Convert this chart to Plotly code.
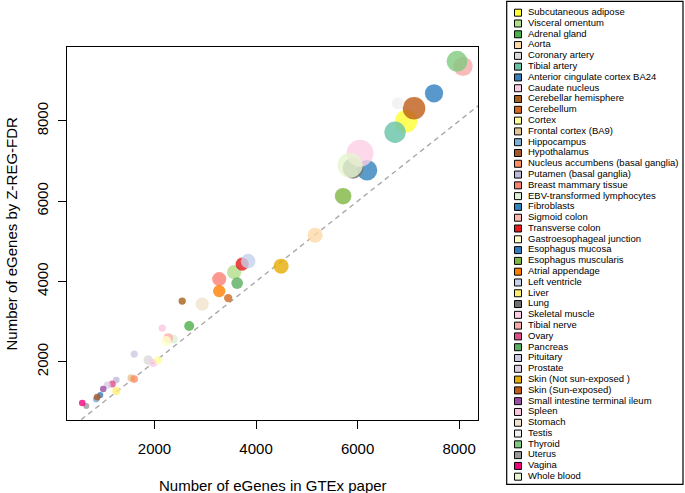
import plotly.graph_objects as go

# ---------------- data ----------------
tissues = [
    "Subcutaneous adipose", "Visceral omentum", "Adrenal gland", "Aorta",
    "Coronary artery", "Tibial artery", "Anterior cingulate cortex BA24",
    "Caudate nucleus", "Cerebellar hemisphere", "Cerebellum", "Cortex",
    "Frontal cortex (BA9)", "Hippocampus", "Hypothalamus",
    "Nucleus accumbens (basal ganglia)", "Putamen (basal ganglia)",
    "Breast mammary tissue", "EBV-transformed lymphocytes", "Fibroblasts",
    "Sigmoid colon", "Transverse colon", "Gastroesophageal junction",
    "Esophagus mucosa", "Esophagus muscularis", "Atrial appendage",
    "Left ventricle", "Liver", "Lung", "Skeletal muscle", "Tibial nerve",
    "Ovary", "Pancreas", "Pituitary", "Prostate", "Skin (Not sun-exposed )",
    "Skin (Sun-exposed)", "Small intestine terminal ileum", "Spleen",
    "Stomach", "Testis", "Thyroid", "Uterus", "Vagina", "Whole blood",
]

gtex_egenes = [
    6955, 3569, 2683, 5163, 1876, 6738, 931, 1974, 2545, 3451, 2073,
    1541, 852, 872, 1600, 1246, 3274, 2368, 6187, 2270, 3726, 2230,
    7506, 5715, 3274, 3844, 1246, 5911, 6049, 8077, 1167, 3628, 1600,
    1069, 4494, 7112, 990, 2152, 2939, 6797, 7959, 656, 577, 5852,
]

zreg_egenes = [
    7991, 4232, 2888, 5153, 2041, 7717, 1170, 1967, 3510, 3585, 2041,
    1593, 1070, 1120, 1568, 1543, 4058, 2564, 6771, 2589, 4431, 2514,
    8688, 6124, 3759, 4506, 1270, 6821, 7194, 9360, 1444, 3958, 2191,
    1419, 4381, 8315, 1319, 2838, 3435, 8439, 9485, 896, 971, 6896,
]

sample_size = [
    298, 185, 126, 197, 118, 285, 72, 100, 89, 103, 96,
    92, 81, 81, 93, 82, 183, 114, 272, 124, 169, 127,
    241, 218, 159, 190, 97, 278, 361, 256, 85, 149, 87,
    87, 196, 302, 77, 89, 170, 157, 278, 70, 79, 338,
]

colors = [
    "#FFFF33", "#B2DF8A", "#4DAF4A", "#FED9A6", "#D9D9D9", "#66C2A5",
    "#377EB8", "#F9CBE3", "#A6611A", "#D2691E", "#FFFF99", "#E5C494",
    "#7FB0D6", "#A65628", "#FC8D62", "#BEBADA", "#FB8072", "#DDF0D6",
    "#3182BD", "#FBB4AE", "#E41A1C", "#FFFFCC", "#2E7EBF", "#7FB541",
    "#FF7F00", "#C6D1EA", "#FFED6F", "#707070", "#FCCDE5", "#F6AAAA",
    "#DE4D8C", "#5AAE61", "#CBC9E2", "#DECBE4", "#E6AB02", "#BF5B17",
    "#984EA3", "#FCC5E0", "#F1E2CC", "#F0F0F0", "#7FC97F", "#999999",
    "#F0027F", "#E6F5D0",
]

x_ticks = [2000, 4000, 6000, 8000]
y_ticks = [2000, 4000, 6000, 8000]
x_range = [276, 8372]
y_range = [548, 9841]
identity = [0, 10000]

W, H = 685, 493
FONT = "Liberation Sans, Arial, Helvetica, sans-serif"

fig = go.Figure()

# identity line
fig.add_trace(go.Scatter(
    x=identity, y=identity, mode="lines",
    line=dict(color="#A8A8A8", width=1.4, dash="5px,4px"),
    hoverinfo="skip", showlegend=False,
))

# points
fig.add_trace(go.Scatter(
    x=gtex_egenes, y=zreg_egenes, mode="markers", text=tissues,
    marker=dict(color=colors, size=[n / 14 + 1 for n in sample_size],
                opacity=0.8, line=dict(width=0)),
    showlegend=False,
))

# legend drawn on a helper axis (1 unit = 1 px)
rows = list(range(len(tissues)))
fig.add_trace(go.Scatter(
    x=[0] * len(tissues), y=rows, mode="markers",
    marker=dict(symbol="square", size=7, color=colors,
                line=dict(color="black", width=1)),
    xaxis="x2", yaxis="y2", showlegend=False, hoverinfo="skip",
    cliponaxis=False,
))
fig.add_trace(go.Scatter(
    x=[10] * len(tissues), y=rows, mode="text", text=tissues,
    textposition="middle right",
    textfont=dict(family=FONT, size=9.5, color="black"),
    xaxis="x2", yaxis="y2", showlegend=False, hoverinfo="skip",
    cliponaxis=False,
))

axis_common = dict(
    showgrid=False, zeroline=False, showline=True, mirror=True,
    linecolor="black", linewidth=1.2, ticks="outside", ticklen=8,
    tickwidth=1.2, tickcolor="black", automargin=False,
    tickfont=dict(family=FONT, size=15, color="black"),
)

fig.update_layout(
    width=W, height=H,
    margin=dict(l=0, r=0, t=0, b=0),
    paper_bgcolor="white", plot_bgcolor="white",
    font=dict(family=FONT, color="black"),
    xaxis=dict(domain=[67 / W, 478 / W], range=x_range, tickvals=x_ticks,
               ticklabelstandoff=7, **axis_common),
    yaxis=dict(domain=[(H - 420) / H, (H - 47) / H], range=y_range,
               tickvals=y_ticks, tickangle=-90, ticklabelstandoff=4,
               **axis_common),
    xaxis2=dict(domain=[511 / W, 683 / W], range=[-7, 165], anchor="y2",
                visible=False, fixedrange=True),
    yaxis2=dict(domain=[(H - 482.1) / H, (H - 7.3) / H],
                range=[len(tissues) - 0.5, -0.5], anchor="x2",
                visible=False, fixedrange=True),
    shapes=[dict(type="rect", xref="paper", yref="paper",
                 x0=506.7 / W, x1=683 / W, y0=(H - 484.3) / H, y1=(H - 1.3) / H,
                 line=dict(color="black", width=1.2))],
    annotations=[
        dict(text="Number of eGenes in GTEx paper", xref="paper", yref="paper",
             x=272.5 / W, y=(H - 485) / H, showarrow=False,
             xanchor="center", yanchor="middle",
             font=dict(family=FONT, size=15, color="black")),
        dict(text="Number of eGenes by Z-REG-FDR", xref="paper", yref="paper",
             x=11 / W, y=(H - 233.5) / H, showarrow=False, textangle=-90,
             xanchor="center", yanchor="middle",
             font=dict(family=FONT, size=15, color="black")),
    ],
)

fig.write_html(
    "out.html",
    config={"displayModeBar": False},
    post_script="document.body.style.margin='0';document.body.style.padding='0';",
)
